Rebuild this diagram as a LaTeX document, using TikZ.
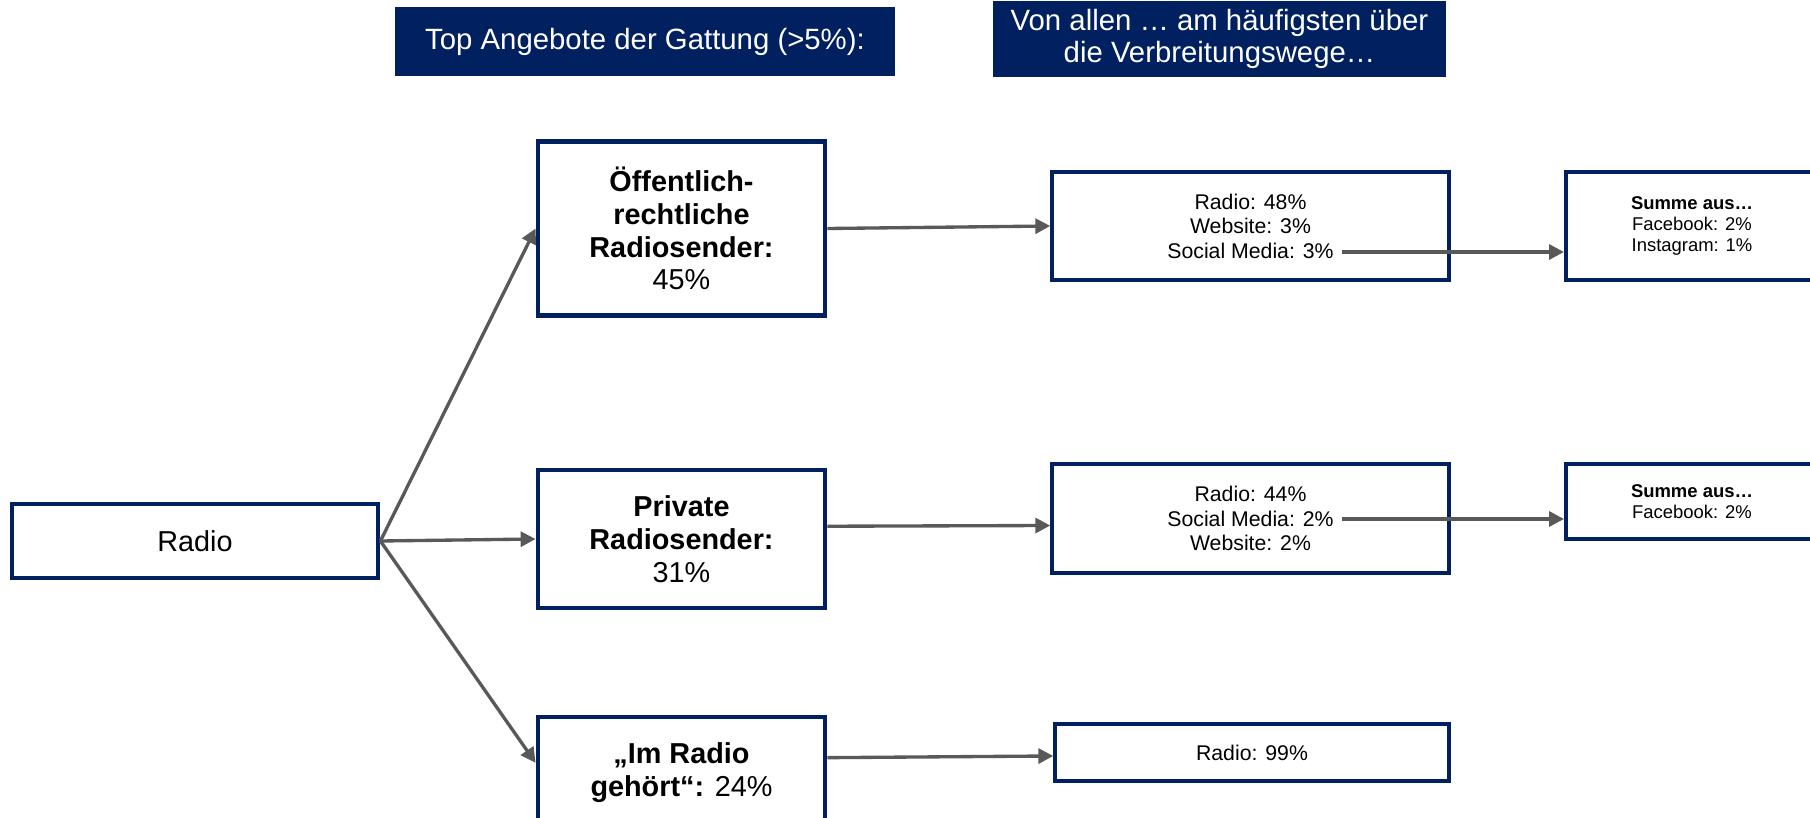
\documentclass[tikz,border=0pt]{standalone}
\usepackage{fontspec}
\setmainfont{Liberation Sans}
\usetikzlibrary{arrows.meta}
\definecolor{navy}{HTML}{002060}
\definecolor{arrowgray}{HTML}{595959}

\begin{document}
\begin{tikzpicture}[x=0.02cm, y=-0.02cm,
  header/.style={fill=navy, text=white, inner sep=0pt, align=center,
    font={\fontsize{16.7}{18.2}\selectfont}},
  mainbox/.style={draw=navy, line width=2.8pt, fill=white, inner sep=0pt,
    minimum width=5.74cm, align=center, font={\fontsize{16.4}{18.7}\selectfont}},
  waybox/.style={draw=navy, line width=2pt, fill=white, inner sep=0pt,
    align=center, font={\fontsize{12.1}{13.9}\selectfont}},
  sumbox/.style={draw=navy, line width=2.3pt, fill=white, inner sep=0pt,
    minimum width=5.04cm, align=center, font={\fontsize{10.5}{11.9}\selectfont}},
  link/.style={draw=arrowgray, line width=1.9pt, -{Triangle[length=8.5pt,width=8.5pt]}}]
\useasboundingbox (0,0) rectangle (1810,818);

% headers
\node[header, minimum width=10cm, minimum height=1.38cm] (head1) at (645,41.5)
  {Top Angebote der Gattung (>5\%):};
\node[header, minimum width=9.06cm, minimum height=1.52cm] (head2) at (1219.5,39)
  {Von allen … am häufigsten über\\die Verbreitungswege…};

% genre
\node[mainbox, minimum width=7.32cm, minimum height=1.48cm] (radio) at (195,541) {Radio};

% top offers
\node[mainbox, minimum height=3.48cm] (oer) at (681.5,228.5)
  {\textbf{Öffentlich-}\\\textbf{rechtliche}\\\textbf{Radiosender:}\\45\%};
\node[mainbox, minimum height=2.76cm] (priv) at (681.5,539)
  {\textbf{Private}\\\textbf{Radiosender:}\\31\%};
\node[mainbox, minimum height=2.24cm] (imr) at (681.5,773)
  {\textbf{„Im Radio}\\\textbf{gehört“:} 24\%};

% distribution ways
\node[waybox, minimum width=7.94cm, minimum height=2.16cm] (way1) at (1250.5,226)
  {Radio: 48\%\\Website: 3\%\\Social Media: 3\%};
\node[waybox, minimum width=7.94cm, minimum height=2.18cm] (way2) at (1250.5,518.5)
  {Radio: 44\%\\Social Media: 2\%\\Website: 2\%};
\node[waybox, minimum width=7.88cm, minimum height=1.14cm] (way3) at (1252,752.5)
  {Radio: 99\%};

% social media sums
\node[sumbox, minimum height=2.16cm] (sum1) at (1692,226)
  {\textbf{Summe aus…}\\Facebook: 2\%\\Instagram: 1\%};
\node[sumbox, minimum height=1.5cm] (sum2) at (1692,501.5)
  {\textbf{Summe aus…}\\Facebook: 2\%};

\coordinate (social1) at (1342,252);
\coordinate (social2) at (1342,519);

\draw[link] (radio.east) -- (oer.west);
\draw[link] (radio.east) -- (priv.west);
\draw[link] (radio.east) -- (imr.176);
\draw[link] (oer.east) -- (way1.west);
\draw[link] (priv.5) -- (way2.182);
\draw[link] (imr.6) -- (way3.181.5);
\draw[link] (social1) -- (social1 -| sum1.west);
\draw[link] (social2) -- (social2 -| sum2.west);
\end{tikzpicture}
\end{document}
